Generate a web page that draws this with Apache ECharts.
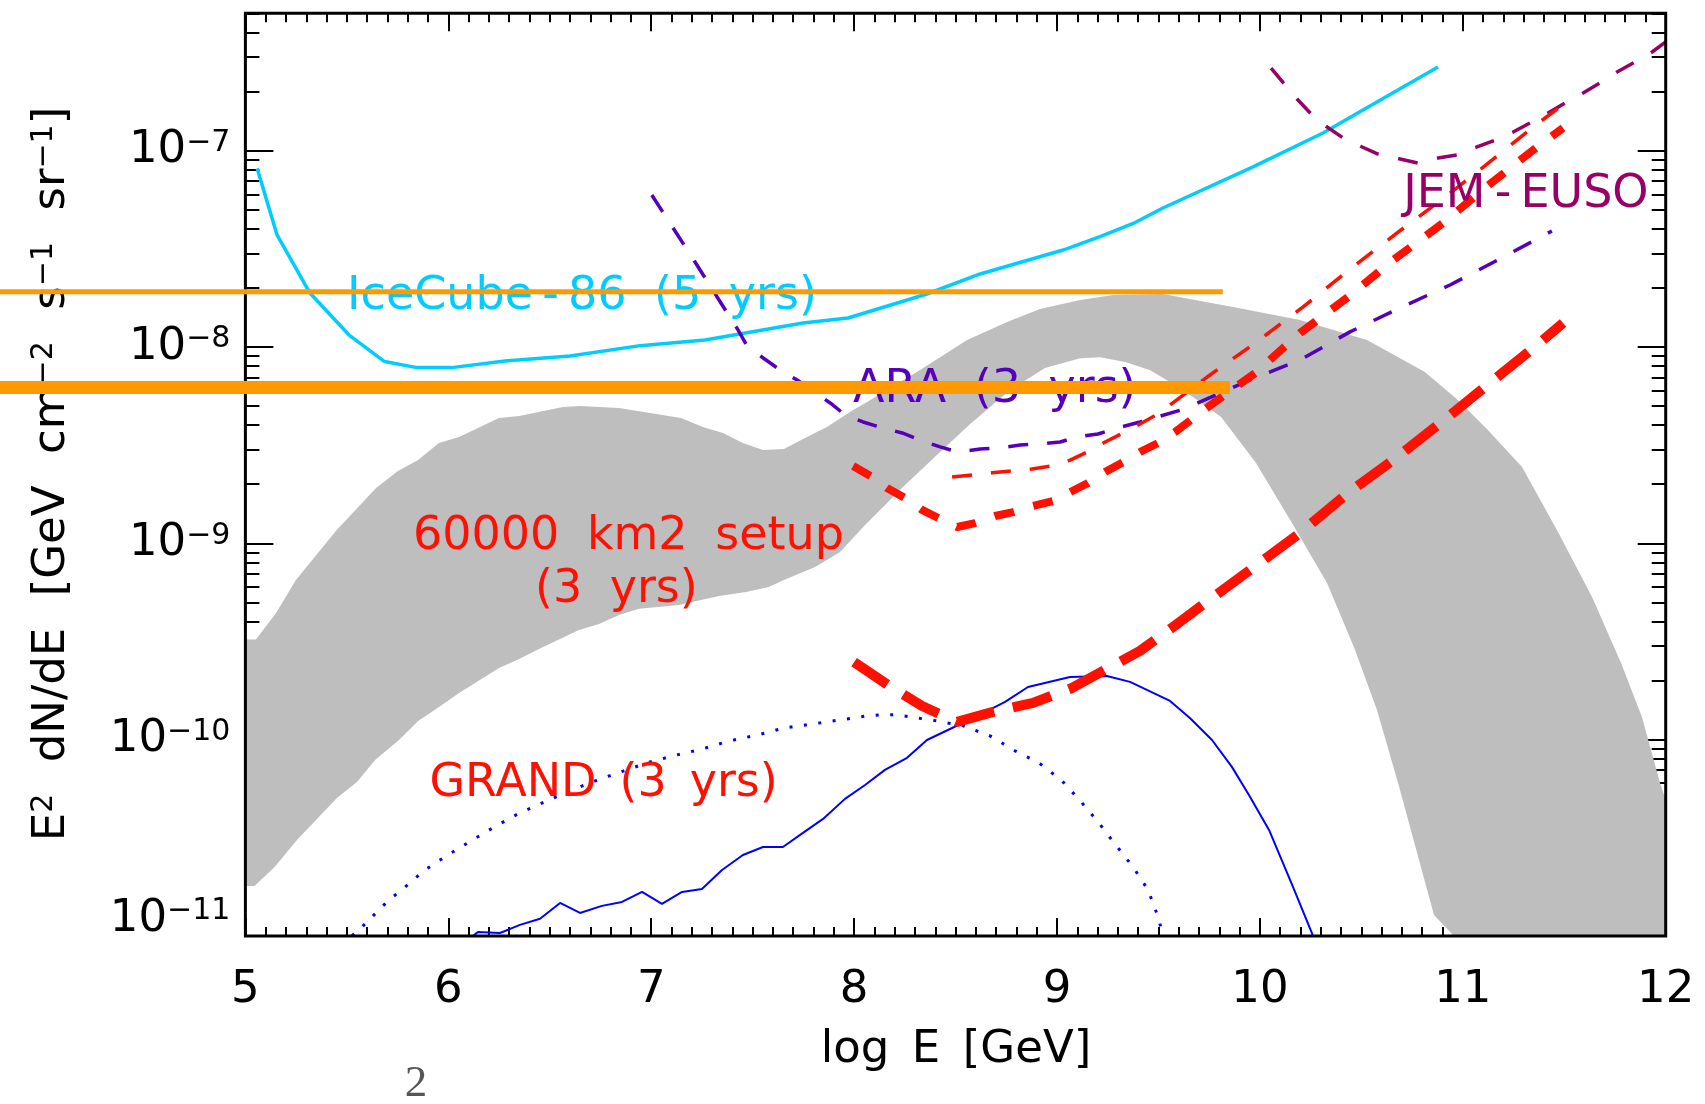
<!DOCTYPE html>
<html>
<head>
<meta charset="utf-8">
<script src="https://cdn.jsdelivr.net/npm/echarts@6/dist/echarts.min.js"></script>
<style>html,body{margin:0;padding:0;background:#fff}#c{width:1705px;height:1104px}</style>
</head>
<body>
<div id="c"></div>
<script>
// x: log10(E / GeV);  y: log10( E^2 dN/dE  [GeV cm^-2 s^-1 sr^-1] )
const X_MIN = 5, X_MAX = 12;
const Y_MIN = -11, Y_MAX = -6.3;
const xTickValues = [5, 6, 7, 8, 9, 10, 11, 12];
const yTickExponents = [-11, -10, -9, -8, -7];

// IceCube-86 (5 yrs)
const icecubeLogE = [5.058, 5.156, 5.318, 5.511, 5.686, 5.846, 6.016, 6.279, 6.600, 6.945, 7.265, 7.748, 7.970, 8.359, 8.621, 9.030, 9.212, 9.385, 9.522, 9.966, 10.311, 10.508, 10.878];
const icecubeLogF = [-7.090, -7.429, -7.725, -7.939, -8.074, -8.105, -8.105, -8.071, -8.046, -7.993, -7.964, -7.878, -7.852, -7.730, -7.628, -7.506, -7.438, -7.366, -7.292, -7.082, -6.910, -6.793, -6.574];

// ARA (3 yrs)
const araLogE = [7.003, 7.108, 7.216, 7.325, 7.428, 7.473, 7.552, 7.635, 7.719, 7.882, 7.956, 8.044, 8.143, 8.237, 8.325, 8.424, 8.513, 8.621, 8.719, 8.818, 8.907, 9.015, 9.099, 9.202, 9.296, 9.409, 9.493, 9.626, 9.951, 10.198, 10.444, 10.690, 10.937, 11.183, 11.439];
const araLogF = [-7.226, -7.394, -7.567, -7.745, -7.913, -7.995, -8.056, -8.117, -8.168, -8.285, -8.346, -8.382, -8.413, -8.438, -8.474, -8.509, -8.535, -8.520, -8.514, -8.499, -8.494, -8.484, -8.458, -8.443, -8.413, -8.382, -8.357, -8.316, -8.168, -8.066, -7.923, -7.801, -7.684, -7.551, -7.409];

// JEM-EUSO
const jemLogE = [10.055, 10.124, 10.188, 10.257, 10.331, 10.410, 10.504, 10.582, 10.691, 10.780, 10.878, 10.972, 11.070, 11.159, 11.248, 11.331, 11.420, 11.504, 11.593, 11.676, 11.760, 11.849, 11.933, 12.0];
const jemLogF = [-6.579, -6.665, -6.742, -6.818, -6.879, -6.935, -6.981, -7.017, -7.042, -7.063, -7.037, -7.022, -6.981, -6.946, -6.905, -6.859, -6.808, -6.757, -6.706, -6.655, -6.599, -6.548, -6.497, -6.446];

// red, thin dashed (upper)
const redThinLogE = [8.483, 8.582, 8.680, 8.779, 8.877, 8.971, 9.065, 9.148, 9.237, 9.326, 9.409, 9.498, 9.740, 9.976, 10.213, 10.445, 10.676, 10.913, 11.145, 11.372, 11.505];
const redThinLogF = [-8.662, -8.652, -8.641, -8.631, -8.621, -8.606, -8.576, -8.535, -8.484, -8.438, -8.392, -8.341, -8.153, -7.980, -7.796, -7.603, -7.419, -7.236, -7.047, -6.859, -6.757];

// red, medium dashed: 60000 km2 setup (3 yrs)
const setupLogE = [7.995, 8.089, 8.162, 8.251, 8.335, 8.424, 8.508, 8.596, 8.695, 8.784, 8.882, 8.981, 9.065, 9.153, 9.237, 9.326, 9.409, 9.498, 9.582, 9.744, 9.976, 10.198, 10.435, 10.657, 10.903, 11.115, 11.366, 11.494];
const setupLogF = [-8.606, -8.662, -8.718, -8.769, -8.830, -8.876, -8.917, -8.897, -8.861, -8.841, -8.810, -8.785, -8.739, -8.693, -8.637, -8.586, -8.535, -8.489, -8.433, -8.306, -8.133, -7.929, -7.745, -7.557, -7.368, -7.185, -6.981, -6.884];

// red, thick long dashes: GRAND (3 yrs)
const grandLogE = [8.000, 8.167, 8.335, 8.508, 8.685, 8.882, 9.074, 9.237, 9.409, 9.572, 9.730, 9.966, 10.198, 10.435, 10.671, 10.908, 11.134, 11.366, 11.494];
const grandLogF = [-9.605, -9.722, -9.829, -9.910, -9.859, -9.813, -9.737, -9.645, -9.548, -9.426, -9.304, -9.125, -8.947, -8.743, -8.565, -8.372, -8.183, -7.990, -7.878];

// blue solid model flux
const blueSolidLogE = [6.122, 6.146, 6.255, 6.353, 6.452, 6.551, 6.649, 6.757, 6.856, 6.955, 7.053, 7.152, 7.250, 7.349, 7.452, 7.551, 7.649, 7.748, 7.847, 7.955, 8.054, 8.152, 8.261, 8.359, 8.483, 8.606, 8.744, 8.857, 9.064, 9.246, 9.360, 9.557, 9.655, 9.764, 9.862, 9.946, 10.045, 10.163, 10.262];
const blueSolidLogF = [-11.0, -10.980, -10.985, -10.944, -10.913, -10.832, -10.883, -10.847, -10.827, -10.776, -10.837, -10.776, -10.761, -10.664, -10.588, -10.547, -10.547, -10.475, -10.404, -10.302, -10.231, -10.154, -10.093, -10.002, -9.941, -9.880, -9.808, -9.732, -9.681, -9.676, -9.706, -9.803, -9.890, -10.002, -10.139, -10.282, -10.460, -10.750, -11.0];

// blue dotted model flux
const blueDotLogE = [5.525, 5.575, 5.629, 5.678, 5.727, 5.782, 5.885, 5.999, 6.112, 6.235, 6.353, 6.487, 6.610, 6.738, 6.866, 6.994, 7.127, 7.255, 7.388, 7.526, 7.659, 7.797, 7.930, 8.064, 8.138, 8.207, 8.276, 8.409, 8.537, 8.670, 8.793, 8.912, 9.025, 9.119, 9.202, 9.281, 9.375, 9.449, 9.498, 9.523];
const blueDotLogF = [-11.0, -10.954, -10.898, -10.847, -10.801, -10.755, -10.664, -10.587, -10.516, -10.440, -10.373, -10.312, -10.256, -10.205, -10.159, -10.114, -10.078, -10.047, -10.006, -9.976, -9.940, -9.920, -9.900, -9.879, -9.874, -9.874, -9.884, -9.905, -9.930, -9.981, -10.057, -10.119, -10.210, -10.317, -10.419, -10.526, -10.649, -10.766, -10.903, -11.0];

// gray band: outer (upper) edge and inner (lower) edge
const bandUpperLogE = [5.0, 5.052, 5.151, 5.249, 5.446, 5.644, 5.752, 5.851, 5.954, 6.053, 6.250, 6.349, 6.565, 6.649, 6.841, 7.147, 7.255, 7.354, 7.452, 7.551, 7.654, 7.758, 7.866, 7.995, 8.064, 8.325, 8.557, 8.754, 8.916, 9.114, 9.276, 9.522, 9.867, 10.198, 10.528, 10.813, 10.976, 11.114, 11.292, 11.464, 11.637, 11.780, 11.883, 11.972, 12.0, 12.0];
const bandUpperLogF = [-9.49, -9.49, -9.355, -9.187, -8.937, -8.718, -8.632, -8.576, -8.489, -8.458, -8.362, -8.351, -8.306, -8.300, -8.311, -8.362, -8.408, -8.438, -8.489, -8.525, -8.520, -8.464, -8.408, -8.321, -8.280, -8.117, -7.964, -7.872, -7.806, -7.760, -7.735, -7.730, -7.796, -7.862, -7.964, -8.127, -8.270, -8.413, -8.611, -8.932, -9.273, -9.610, -9.885, -10.221, -10.308, -11.0];
const bandLowerLogE = [5.0, 5.045, 5.144, 5.254, 5.451, 5.550, 5.639, 5.757, 5.851, 5.940, 6.053, 6.250, 6.349, 6.467, 6.644, 6.743, 6.841, 6.940, 7.137, 7.334, 7.467, 7.580, 7.654, 7.808, 7.931, 8.054, 8.251, 8.424, 8.572, 8.769, 8.941, 9.114, 9.212, 9.336, 9.459, 9.607, 9.809, 9.981, 10.158, 10.331, 10.469, 10.577, 10.681, 10.858, 10.957];
const bandLowerLogF = [-10.746, -10.746, -10.649, -10.511, -10.297, -10.216, -10.104, -10.002, -9.905, -9.844, -9.762, -9.635, -9.589, -9.528, -9.442, -9.411, -9.365, -9.334, -9.314, -9.268, -9.248, -9.222, -9.187, -9.121, -9.044, -8.907, -8.703, -8.535, -8.392, -8.219, -8.107, -8.057, -8.052, -8.077, -8.118, -8.209, -8.357, -8.591, -8.897, -9.202, -9.544, -9.849, -10.221, -10.893, -11.0];

// orange horizontal levels (they run out past the left edge of the frame)
const orangeThinLogE = [3.7, 9.817];
const orangeThinLogF = [-7.718, -7.718];
const orangeThickLogE = [3.7, 9.853];
const orangeThickLogF = [-8.206, -8.206];

// text labels (anchored at their left end, vertical middle)
const SPL = '\u2002\u200a';
const DASH = '\u2009-\u2009';
const labelTexts = ['IceCube' + DASH + '86' + SPL + '(5' + SPL + 'yrs)', 'ARA' + SPL + '(3' + SPL + 'yrs)', 'JEM' + DASH + 'EUSO', '60000' + SPL + 'km2' + SPL + 'setup', '(3' + SPL + 'yrs)', 'GRAND\u2002(3\u2002yrs)'];
const labelLogE = [5.501, 7.995, 10.706, 5.826, 6.427, 5.907];
const labelLogF = [-7.745, -8.219, -7.226, -8.966, -9.238, -10.226];

// ---------- styles ----------
const FONT = 'DejaVu Sans';
const C_ICE = '#00ccff', C_ARA = '#5500bb', C_JEM = '#990066', C_RED = '#ff1000', C_BLUE = '#0000ff', C_ORANGE = '#ff9900', C_GRAY = '#bebebe';
const labelColors = [C_ICE, C_ARA, C_JEM, C_RED, C_RED, C_RED];

const pairs = (xs, ys) => xs.map((x, i) => [x, ys[i]]);
function lineSeries(xs, ys, color, width, dash, z) {
  return {
    type: 'line', xAxisIndex: 0, yAxisIndex: 0, data: pairs(xs, ys),
    symbol: 'none', showSymbol: false, silent: true, animation: false,
    emphasis: { disabled: true }, z: z || 2,
    lineStyle: { color: color, width: width, type: dash || 'solid', cap: 'butt' }
  };
}

const yMinorValues = [];
yTickExponents.forEach(n => { for (let k = 2; k <= 9; k++) { const v = n + Math.log10(k); if (v <= Y_MAX + 1e-9) yMinorValues.push(v); } });

const tickLine = { color: '#000', width: 2 };
function xAxisDef(pos, showLabels) {
  return {
    type: 'value', position: pos, min: X_MIN, max: X_MAX, interval: 1,
    axisLine: { show: false }, splitLine: { show: false },
    axisTick: { show: true, inside: true, length: 18, lineStyle: tickLine },
    minorTick: { show: true, splitNumber: 10, length: 9, lineStyle: tickLine },
    axisLabel: { show: showLabels, margin: 32, fontSize: 45, fontFamily: FONT, color: '#000' }
  };
}
const supRich = {
  b: { fontSize: 45, fontFamily: FONT, color: '#000', lineHeight: 45 },
  s: { fontSize: 30, fontFamily: FONT, color: '#000', lineHeight: 11, verticalAlign: 'top' },
  g: { fontSize: 10, lineHeight: 34 }
};
function yAxisDef(pos, values, len, labels) {
  return {
    type: 'value', position: pos, min: Y_MIN, max: Y_MAX,
    axisLine: { show: false }, splitLine: { show: false },
    axisTick: { show: true, inside: true, length: len, customValues: values, lineStyle: tickLine },
    axisLabel: labels ? {
      show: true, customValues: yTickExponents, margin: 15,
      formatter: v => {
        const e = '{b|10}{s|\u2212' + Math.round(-v) + '}';
        return Math.round(v) === Y_MIN ? e + '\n{g| }' : e;
      },
      rich: supRich
    } : { show: false }
  };
}

const SP = '\u2002\u2009';
const titleGraphics = [
  {
    type: 'text', x: 52, y: 474, rotation: Math.PI / 2, z: 20,
    style: {
      text: '{b|E}{s|2}{b|' + SP + 'dN/dE' + SP + '[GeV' + SP + 'cm}{s|\u22122}{b|' + SP + 's}{s|\u22121}{b|' + SP + 'sr}{s|\u22121}{b|]}',
      align: 'center', verticalAlign: 'middle',
      rich: {
        b: { fontSize: 45, fontFamily: FONT, fill: '#000', lineHeight: 45 },
        s: { fontSize: 30, fontFamily: FONT, fill: '#000', lineHeight: 11, verticalAlign: 'top' }
      }
    }
  },
  {
    type: 'text', x: 956, y: 1050, z: 20,
    style: { text: 'log\u2002E\u2002[GeV]', fontSize: 45, fontFamily: FONT, fill: '#000', align: 'center', verticalAlign: 'middle' }
  },
  {
    type: 'text', x: 416, y: 1084, z: 20,
    style: { text: '2', fontSize: 45, fontFamily: 'Liberation Serif', fill: '#555', align: 'center', verticalAlign: 'middle' }
  }
];

const option = {
  animation: false,
  backgroundColor: '#fff',
  grid: { left: 245.4, right: 39.3, top: 13.3, bottom: 168.1, show: true, borderColor: '#000', borderWidth: 3, backgroundColor: 'rgba(0,0,0,0)', z: 10, containLabel: false },
  xAxis: [xAxisDef('bottom', true), xAxisDef('top', false)],
  yAxis: [
    yAxisDef('left', yTickExponents, 28, true),
    yAxisDef('left', yMinorValues, 14, false),
    yAxisDef('right', yTickExponents, 28, false),
    yAxisDef('right', yMinorValues, 14, false)
  ],
  series: [
    {
      type: 'custom', xAxisIndex: 0, yAxisIndex: 0, z: 1, silent: true, clip: false,
      data: [[bandUpperLogE[0], bandUpperLogF[0]]],
      renderItem: function (params, api) {
        const pts = [];
        for (let i = 0; i < bandUpperLogE.length; i++) pts.push(api.coord([bandUpperLogE[i], bandUpperLogF[i]]));
        for (let i = bandLowerLogE.length - 1; i >= 0; i--) pts.push(api.coord([bandLowerLogE[i], bandLowerLogF[i]]));
        return { type: 'polygon', shape: { points: pts }, style: { fill: C_GRAY, stroke: null } };
      }
    },
    lineSeries(blueDotLogE, blueDotLogF, C_BLUE, 3, [3, 11.5]),
    lineSeries(blueSolidLogE, blueSolidLogF, C_BLUE, 2),
    lineSeries(icecubeLogE, icecubeLogF, C_ICE, 3.5),
    lineSeries(araLogE, araLogF, C_ARA, 3.5, [20, 19]),
    lineSeries(jemLogE, jemLogF, C_JEM, 3.5, [20, 20]),
    lineSeries(redThinLogE, redThinLogF, C_RED, 3.5, [20, 19]),
    lineSeries(setupLogE, setupLogF, C_RED, 8, [20, 20]),
    lineSeries(grandLogE, grandLogF, C_RED, 10, [40, 19]),
    {
      type: 'scatter', xAxisIndex: 0, yAxisIndex: 0, z: 6, silent: true, symbolSize: 2,
      itemStyle: { color: 'rgba(0,0,0,0)', opacity: 1 },
      emphasis: { disabled: true },
      label: { show: true, position: [1, 1], align: 'left', verticalAlign: 'middle', fontSize: 46, fontFamily: FONT, opacity: 1 },
      data: labelTexts.map((t, i) => ({ value: [labelLogE[i], labelLogF[i]], label: { show: true, formatter: t, color: labelColors[i], opacity: 1 } }))
    }
  ],
  graphic: titleGraphics
};

const chart = echarts.init(document.getElementById('c'), null, { renderer: 'canvas', width: 1705, height: 1104 });
chart.setOption(option);

// orange levels: end points mapped through the chart's own axes (unclipped, so they run past the frame)
const px = (x, y) => chart.convertToPixel({ gridIndex: 0 }, [x, y]);
const orangeGraphics = [[orangeThinLogE, orangeThinLogF, 5], [orangeThickLogE, orangeThickLogF, 13]].map(([xs, ys, w]) => {
  const a = px(xs[0], ys[0]), b = px(xs[1], ys[1]);
  return { type: 'line', z: 30, silent: true, shape: { x1: a[0], y1: a[1], x2: b[0], y2: b[1] }, style: { stroke: C_ORANGE, lineWidth: w } };
});
chart.setOption({ graphic: titleGraphics.concat(orangeGraphics) });
</script>
</body>
</html>
